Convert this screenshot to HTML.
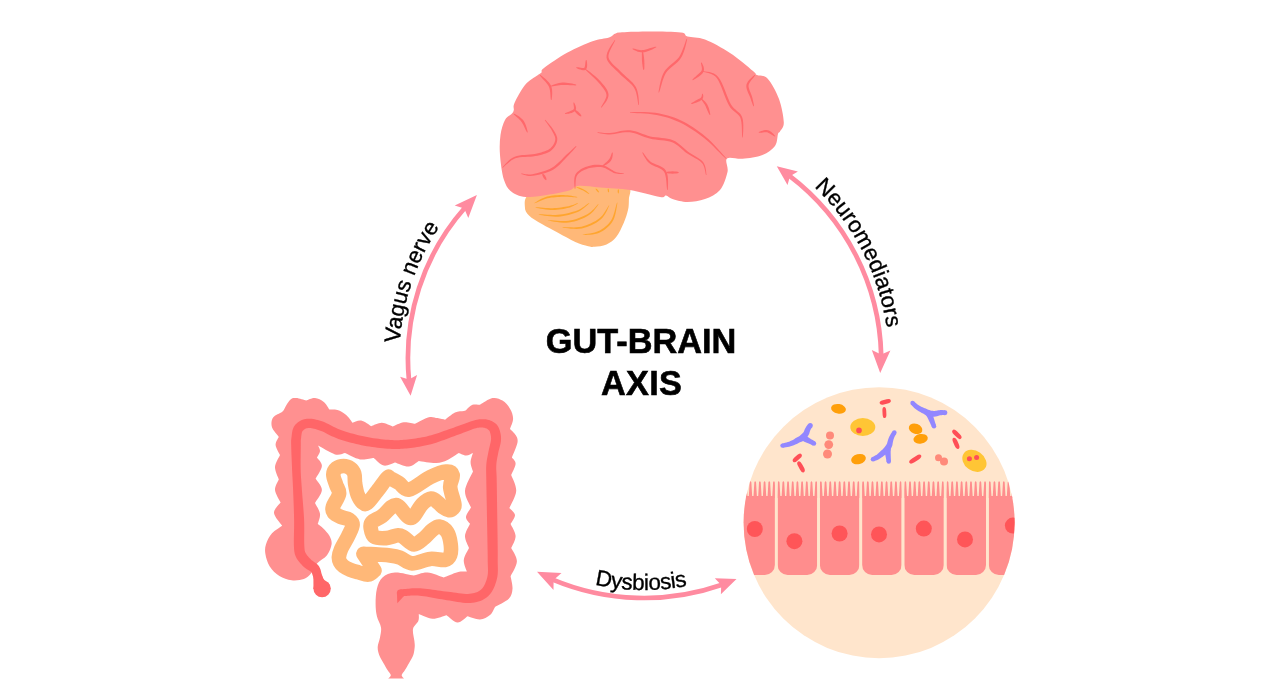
<!DOCTYPE html>
<html lang="en"><head><meta charset="utf-8"><title>Gut-brain axis</title>
<style>html,body{margin:0;padding:0;background:#fff}svg{display:block;will-change:transform}</style></head>
<body><svg width="1280" height="697" viewBox="0 0 1280 697">
<rect width="1280" height="697" fill="#fff"/>
<path d="M524.9 206.9C524.9 210.4 526.2 212.6 529 215.5C531.8 218.4 537.1 221.3 541.9 224.1C546.7 227 552.5 229.8 558 232.7C563.6 235.7 570.2 239.6 575.3 241.9C580.3 244.1 585 245.4 588.2 246.2C591.4 247 591.6 247.1 594.6 246.8C597.7 246.5 602.9 246 606.5 244.4C610.1 242.7 613.3 240.6 616.2 237C619 233.5 621.7 227.5 623.7 223C625.7 218.6 627.1 214.1 628 210.1C628.9 206.2 628.8 203.3 628.9 199.4C628.9 195.4 632.8 189.3 628.2 186.5C623.6 183.6 612.8 182.5 601.1 182.2C589.4 181.8 570.1 182.2 558 184.3C546 186.4 534.5 190.8 529 194.5C523.5 198.3 524.9 203.4 524.9 206.9Z" fill="#FFB878"/>
<path d="M534.44 203.27L535.49 202.96L536.81 202.4L538.37 201.71L540.09 200.94L541.93 200.16L543.82 199.42L545.69 198.77L547.5 198.28L549.33 197.91L551.28 197.62L553.3 197.38L555.37 197.19L557.44 197.05L559.5 196.94L561.51 196.86L563.43 196.8L565.34 196.79L567.35 196.85L569.38 196.96L571.36 197.1L573.23 197.23L574.9 197.35L576.32 197.42L577.4 197.37L577.44 197.07L576.39 196.78L575.01 196.49L573.36 196.18L571.5 195.86L569.52 195.57L567.46 195.32L565.41 195.14L563.43 195.06L561.47 195.05L559.43 195.08L557.34 195.16L555.21 195.3L553.09 195.5L551.01 195.78L548.99 196.14L547.07 196.59L545.16 197.2L543.24 197.98L541.35 198.87L539.55 199.82L537.88 200.76L536.42 201.63L535.2 202.38L534.31 203 Z" fill="#FFA52E"/>
<path d="M535.43 207.59L536.74 207.94L538.51 208.29L540.62 208.68L542.97 209.07L545.45 209.43L547.97 209.72L550.41 209.92L552.68 209.98L554.84 209.92L557.03 209.77L559.22 209.54L561.37 209.24L563.46 208.88L565.45 208.49L567.3 208.08L568.99 207.65L570.56 207.17L572.03 206.61L573.39 205.99L574.61 205.36L575.7 204.75L576.65 204.19L577.42 203.7L578.02 203.27L577.89 203L577.18 203.18L576.31 203.52L575.3 203.94L574.17 204.41L572.92 204.9L571.57 205.37L570.14 205.8L568.63 206.16L566.97 206.47L565.13 206.8L563.17 207.11L561.11 207.4L559 207.66L556.86 207.88L554.73 208.04L552.66 208.13L550.48 208.13L548.1 208.04L545.61 207.88L543.13 207.7L540.76 207.51L538.63 207.35L536.83 207.25L535.46 207.29 Z" fill="#FFA52E"/>
<path d="M538.66 214.59L540.14 214.91L542.1 215.26L544.46 215.65L547.09 216.03L549.88 216.36L552.72 216.6L555.5 216.7L558.11 216.63L560.64 216.39L563.22 216.02L565.83 215.55L568.42 214.97L570.95 214.31L573.37 213.58L575.64 212.8L577.74 211.97L579.7 211L581.56 209.86L583.3 208.62L584.9 207.35L586.32 206.11L587.56 204.98L588.58 204.02L589.35 203.26L589.17 203.02L588.21 203.55L587.05 204.36L585.71 205.35L584.2 206.44L582.56 207.56L580.81 208.65L578.98 209.63L577.1 210.45L575.07 211.17L572.84 211.87L570.46 212.53L567.99 213.14L565.46 213.69L562.91 214.16L560.4 214.54L557.98 214.83L555.48 214.97L552.78 214.97L549.99 214.87L547.22 214.71L544.58 214.52L542.21 214.35L540.21 214.24L538.69 214.29 Z" fill="#FFA52E"/>
<path d="M547.81 220.51L549.42 220.85L551.57 221.25L554.16 221.68L557.04 222.11L560.08 222.47L563.16 222.7L566.16 222.75L568.93 222.55L571.56 222.11L574.23 221.48L576.89 220.69L579.5 219.77L582.02 218.74L584.4 217.65L586.61 216.51L588.61 215.35L590.43 214.05L592.1 212.56L593.6 210.97L594.93 209.37L596.1 207.82L597.09 206.42L597.91 205.23L598.52 204.31L598.29 204.12L597.45 204.85L596.47 205.92L595.34 207.21L594.07 208.63L592.67 210.09L591.14 211.52L589.51 212.83L587.76 213.96L585.81 214.99L583.64 216.03L581.3 217.04L578.84 218L576.3 218.88L573.73 219.65L571.18 220.28L568.69 220.74L566.08 221L563.21 221.05L560.19 220.96L557.17 220.77L554.3 220.54L551.69 220.32L549.49 220.18L547.84 220.21 Z" fill="#FFA52E"/>
<path d="M562.34 227.5L563.83 227.76L565.82 228.05L568.2 228.36L570.86 228.65L573.67 228.86L576.53 228.93L579.31 228.81L581.9 228.44L584.38 227.83L586.9 227.04L589.43 226.09L591.91 224.99L594.32 223.77L596.59 222.46L598.68 221.06L600.57 219.61L602.25 217.95L603.76 216.03L605.09 213.97L606.26 211.89L607.26 209.88L608.11 208.06L608.8 206.53L609.3 205.37L609.04 205.21L608.25 206.23L607.37 207.67L606.35 209.39L605.21 211.28L603.95 213.23L602.57 215.13L601.07 216.85L599.47 218.31L597.67 219.61L595.64 220.89L593.43 222.12L591.11 223.27L588.7 224.33L586.28 225.27L583.87 226.06L581.54 226.69L579.13 227.11L576.48 227.33L573.7 227.39L570.93 227.35L568.29 227.25L565.9 227.15L563.88 227.1L562.36 227.2 Z" fill="#FFA52E"/>
<path d="M582.82 235.03L584.11 235.03L585.82 234.96L587.87 234.86L590.15 234.69L592.54 234.41L594.93 234.01L597.23 233.43L599.3 232.66L601.2 231.72L603.07 230.64L604.9 229.42L606.68 228.07L608.36 226.59L609.93 224.97L611.36 223.23L612.63 221.36L613.72 219.19L614.64 216.67L615.39 213.97L616.01 211.22L616.51 208.57L616.9 206.16L617.2 204.14L617.38 202.64L617.09 202.56L616.55 203.99L615.99 205.96L615.38 208.32L614.7 210.9L613.94 213.56L613.08 216.14L612.13 218.48L611.08 220.43L609.89 222.11L608.54 223.71L607.05 225.21L605.47 226.61L603.8 227.9L602.08 229.08L600.33 230.15L598.59 231.08L596.71 231.87L594.58 232.5L592.3 233.02L589.98 233.44L587.76 233.79L585.73 234.1L584.03 234.39L582.78 234.74 Z" fill="#FFA52E"/>
<path d="M576.29 187.13L576.83 187.52L577.6 187.94L578.53 188.4L579.56 188.89L580.64 189.39L581.71 189.89L582.7 190.36L583.57 190.79L584.36 191.23L585.17 191.71L585.97 192.22L586.74 192.71L587.46 193.18L588.12 193.59L588.69 193.92L589.17 194.11L589.35 193.87L589.03 193.47L588.56 193.01L587.99 192.48L587.34 191.91L586.61 191.31L585.83 190.72L585.02 190.16L584.18 189.66L583.27 189.19L582.23 188.72L581.11 188.27L579.98 187.86L578.89 187.49L577.9 187.19L577.05 186.96L576.4 186.86 Z" fill="#FFA52E"/>
<path d="M595.6 188.71L595.7 189.17L595.98 189.71L596.36 190.31L596.84 190.92L597.36 191.47L597.9 191.95L598.39 192.3L598.83 192.47L599.06 192.28L598.96 191.82L598.68 191.28L598.29 190.67L597.82 190.07L597.3 189.51L596.76 189.04L596.27 188.68L595.83 188.51 Z" fill="#FFA52E"/>
<path d="M607.94 188.63L607.77 188.98L607.69 189.45L607.67 190L607.72 190.58L607.83 191.16L608.01 191.68L608.21 192.11L608.48 192.4L608.78 192.36L608.95 192.01L609.03 191.54L609.05 190.99L609 190.4L608.89 189.82L608.71 189.3L608.51 188.87L608.24 188.59 Z" fill="#FFA52E"/>
<path d="M618.16 189.15L617.94 189.51L617.8 190.02L617.7 190.64L617.66 191.3L617.7 191.96L617.8 192.58L617.94 193.09L618.16 193.45L618.46 193.45L618.69 193.09L618.83 192.58L618.93 191.96L618.96 191.3L618.93 190.64L618.83 190.02L618.69 189.51L618.46 189.15 Z" fill="#FFA52E"/>
<path d="M615 33.8C617.2 32.9 616.2 32.7 622 32.3C627.8 31.9 640.2 31.5 650 31.5C659.8 31.5 674.8 31.7 681 32.5C687.2 33.3 683.5 35.3 687.5 36.5C691.5 37.7 697.9 36.8 705 39.5C712.1 42.2 722 47.8 730 53C738 58.2 748.5 67.3 753 71C757.5 74.7 754.6 73.8 757 75C759.4 76.2 763.8 74.5 767.5 78.5C771.2 82.5 776.3 91.7 779 99C781.7 106.3 783.6 117.1 783.8 122.5C783.9 127.9 781 129.6 780 131.5C779 133.4 778.8 131.6 778 134C777.2 136.4 777.6 142.5 775 146C772.4 149.5 767.9 152.9 762.5 155C757.1 157.1 748.4 158.2 742.5 158.8C736.6 159.3 729.5 156.3 727 158.5C724.5 160.7 728.7 166.8 727.5 172C726.3 177.2 723.8 185.5 720 190C716.2 194.5 710.4 197 705 199C699.6 201 692.9 202 687.5 202C682.1 202 676.1 200.1 672.5 199C668.9 197.9 668.1 195.8 666 195.5C663.9 195.2 666 197.9 660 197C654 196.1 640 191.6 630 190C620 188.4 608.8 188.2 600 187.5C591.2 186.8 582.9 185.4 577.5 186C572.1 186.6 575.4 189.2 567.5 191C559.6 192.8 539.2 196.8 530 197C520.8 197.2 516.8 195.3 512.5 192.5C508.2 189.7 506.1 186.2 504 180C501.9 173.8 500.6 162.5 500 155C499.4 147.5 499.7 140.8 500.5 135C501.3 129.2 503.1 123.6 505 120C506.9 116.4 510.5 115.2 512 113.5C513.5 111.8 513.3 111.8 513.8 110C514.2 108.2 512.6 107.2 514.5 103C516.4 98.8 521.1 89.7 525 85C528.9 80.3 535.2 77.1 538 75C540.8 72.9 540.5 73.7 541.5 72.5C542.5 71.3 539.7 71.3 544 68C548.3 64.7 559.4 57 567.5 52.5C575.6 48 585.6 43.8 592.5 41.2C599.4 38.8 605.2 38.8 609 37.5C612.8 36.2 612.8 34.6 615 33.8Z" fill="#FF9090"/>
<path d="M539.82 75.17L540.47 76.22L541.53 77.46L542.82 78.89L544.24 80.44L545.67 82.07L547.01 83.7L548.14 85.27L548.95 86.72L549.49 88.24L549.88 90L550.15 91.9L550.32 93.85L550.45 95.74L550.57 97.46L550.72 98.93L551 100.01L551.5 99.99L551.71 98.92L551.89 97.48L552.06 95.75L552.18 93.81L552.18 91.75L552.04 89.67L551.68 87.65L551.05 85.78L550.06 84.02L548.75 82.3L547.23 80.64L545.6 79.09L543.98 77.68L542.47 76.46L541.19 75.48L540.18 74.83 Z" fill="#FF686B"/>
<path d="M550.81 86.49L551.77 86.51L552.99 86.34L554.41 86.09L555.99 85.8L557.65 85.5L559.34 85.23L560.99 85.02L562.56 84.9L564.19 84.88L566.04 84.95L568.01 85.05L570 85.18L571.91 85.29L573.64 85.37L575.11 85.39L576.22 85.25L576.28 84.75L575.24 84.37L573.82 84L572.12 83.62L570.22 83.26L568.22 82.94L566.19 82.71L564.24 82.59L562.44 82.6L560.72 82.78L558.95 83.11L557.21 83.54L555.55 84.04L554 84.57L552.64 85.09L551.52 85.56L550.69 86.01 Z" fill="#FF686B"/>
<path d="M573.51 102.55L573.41 103.23L573.51 104.12L573.67 105.14L573.83 106.22L573.94 107.27L573.95 108.19L573.82 108.88L573.6 109.3L573.09 109.73L572.13 110.26L570.89 110.82L569.49 111.38L568.07 111.93L566.75 112.46L565.65 112.97L564.92 113.51L565.08 113.99L565.96 114L567.14 113.86L568.56 113.64L570.1 113.31L571.66 112.88L573.11 112.32L574.39 111.62L575.4 110.7L575.96 109.5L576.08 108.24L575.93 107L575.6 105.81L575.18 104.71L574.74 103.75L574.35 102.98L573.99 102.45 Z" fill="#FF686B"/>
<path d="M574.33 110.18L574.62 111L575.25 111.94L576.1 112.96L577.09 113.97L578.18 114.89L579.26 115.65L580.24 116.2L581.08 116.43L581.42 116.07L581.13 115.25L580.5 114.31L579.65 113.29L578.66 112.28L577.57 111.36L576.49 110.6L575.51 110.05L574.67 109.82 Z" fill="#FF686B"/>
<path d="M513.6 113.95L514.15 114.7L515.02 115.54L516.08 116.49L517.24 117.53L518.45 118.62L519.63 119.73L520.69 120.85L521.57 121.93L522.35 123.13L523.13 124.55L523.91 126.1L524.66 127.69L525.38 129.23L526.05 130.63L526.66 131.79L527.27 132.59L527.73 132.41L527.62 131.42L527.33 130.15L526.93 128.65L526.43 126.99L525.83 125.27L525.13 123.57L524.33 121.98L523.43 120.57L522.36 119.31L521.11 118.14L519.76 117.05L518.38 116.07L517.03 115.2L515.8 114.48L514.75 113.91L513.9 113.55 Z" fill="#FF686B"/>
<path d="M544.8 120.15L545.31 121L546.09 122.08L547.02 123.35L548.05 124.74L549.11 126.21L550.14 127.68L551.06 129.1L551.82 130.41L552.5 131.66L553.19 132.92L553.83 134.16L554.4 135.38L554.85 136.56L555.16 137.71L555.3 138.81L555.25 139.89L555.02 141.04L554.62 142.26L554.07 143.51L553.38 144.76L552.55 145.97L551.6 147.11L550.53 148.16L549.35 149.08L548.03 149.89L546.52 150.62L544.85 151.27L543.02 151.87L541.08 152.42L539.04 152.93L536.93 153.42L534.79 153.89L532.54 154.27L530.09 154.53L527.47 154.72L524.78 154.9L522.08 155.12L519.45 155.45L516.96 155.95L514.68 156.68L512.59 157.74L510.61 159.08L508.76 160.59L507.07 162.19L505.55 163.75L504.23 165.19L503.15 166.4L502.33 167.31L502.67 167.69L503.68 166.96L504.91 165.87L506.34 164.55L507.93 163.13L509.67 161.69L511.5 160.34L513.4 159.18L515.32 158.32L517.39 157.74L519.73 157.36L522.26 157.12L524.91 156.98L527.6 156.86L530.26 156.72L532.83 156.49L535.21 156.11L537.42 155.64L539.57 155.16L541.67 154.64L543.69 154.07L545.63 153.43L547.44 152.71L549.12 151.88L550.65 150.92L552.01 149.82L553.23 148.59L554.3 147.27L555.22 145.87L555.98 144.43L556.57 142.97L557 141.53L557.25 140.11L557.27 138.69L557.05 137.29L556.63 135.94L556.07 134.62L555.41 133.34L554.69 132.08L553.94 130.84L553.18 129.59L552.32 128.27L551.29 126.85L550.15 125.41L548.98 124.01L547.84 122.69L546.79 121.51L545.89 120.54L545.2 119.85 Z" fill="#FF686B"/>
<path d="M576.19 67.74L576.85 68.16L577.8 68.63L578.99 69.14L580.32 69.62L581.71 70.01L583.08 70.23L584.42 70.19L585.69 69.67L586.54 68.6L586.96 67.33L587.13 65.94L587.15 64.5L587.05 63.09L586.9 61.81L586.72 60.76L586.5 60.02L586 59.98L585.69 60.73L585.51 61.81L585.35 63.07L585.2 64.41L585.01 65.69L584.78 66.8L584.51 67.55L584.31 67.83L583.99 67.94L583.19 67.99L582.06 67.91L580.78 67.72L579.45 67.5L578.19 67.29L577.11 67.17L576.31 67.26 Z" fill="#FF686B"/>
<path d="M584.83 68.94L585.89 70.18L587.46 71.73L589.35 73.53L591.45 75.51L593.61 77.56L595.7 79.59L597.59 81.51L599.16 83.25L600.52 84.86L601.83 86.44L603.05 87.97L604.13 89.46L605.05 90.9L605.76 92.31L606.24 93.69L606.47 95.02L606.37 96.44L605.9 98.07L605.13 99.83L604.19 101.63L603.18 103.35L602.23 104.94L601.46 106.3L601.04 107.37L601.46 107.63L602.19 106.77L603.16 105.57L604.3 104.1L605.5 102.44L606.65 100.64L607.62 98.77L608.3 96.86L608.53 94.98L608.31 93.2L607.78 91.49L607 89.83L606.02 88.2L604.88 86.59L603.62 84.99L602.26 83.38L600.84 81.75L599.17 79.98L597.15 78.07L594.92 76.11L592.62 74.18L590.36 72.37L588.28 70.77L586.52 69.46L585.17 68.56 Z" fill="#FF686B"/>
<path d="M614.78 39.88L613.92 41.16L612.73 42.93L611.31 45.07L609.82 47.46L608.44 50.01L607.31 52.61L606.61 55.18L606.53 57.63L607.16 59.89L608.29 62L609.8 64.01L611.56 65.93L613.48 67.8L615.46 69.64L617.38 71.46L619.18 73.31L621.04 75.18L623.08 77.04L625.2 78.86L627.32 80.67L629.35 82.47L631.23 84.28L632.86 86.11L634.17 87.97L635.19 90.02L636 92.33L636.64 94.8L637.12 97.29L637.51 99.68L637.83 101.85L638.13 103.68L638.5 105.04L639 104.96L638.94 103.58L638.85 101.74L638.72 99.54L638.5 97.09L638.15 94.5L637.63 91.89L636.87 89.36L635.83 87.03L634.44 84.9L632.74 82.87L630.83 80.92L628.78 79.02L626.67 77.17L624.6 75.34L622.63 73.53L620.82 71.69L618.98 69.82L617.01 67.98L615.02 66.17L613.13 64.38L611.43 62.61L610.03 60.85L609.02 59.1L608.47 57.37L608.46 55.44L608.98 53.17L609.92 50.69L611.11 48.16L612.41 45.72L613.64 43.48L614.65 41.57L615.22 40.12 Z" fill="#FF686B"/>
<path d="M632.42 48.99L633.09 49.44L633.99 49.94L635.09 50.5L636.37 51.09L637.78 51.63L639.31 52.06L640.93 52.34L642.58 52.38L644.36 52.14L646.3 51.66L648.32 51L650.33 50.23L652.24 49.4L653.94 48.6L655.34 47.87L656.33 47.24L656.17 46.76L654.98 46.87L653.44 47.25L651.63 47.75L649.67 48.33L647.65 48.92L645.7 49.46L643.91 49.88L642.42 50.12L641.08 50.15L639.69 50.02L638.29 49.77L636.91 49.45L635.62 49.1L634.43 48.78L633.4 48.54L632.58 48.51 Z" fill="#FF686B"/>
<path d="M642.25 51.27L641.95 52.87L641.85 55.12L641.85 57.8L641.98 60.7L642.23 63.59L642.59 66.25L642.99 68.47L643.5 70.02L644 69.98L644.3 68.38L644.4 66.13L644.4 63.45L644.27 60.55L644.02 57.66L643.66 55L643.26 52.78L642.75 51.23 Z" fill="#FF686B"/>
<path d="M686.76 38.67L686.09 40.09L685.38 42.05L684.58 44.38L683.68 46.94L682.69 49.62L681.59 52.27L680.4 54.75L679.11 56.91L677.62 58.8L675.83 60.58L673.84 62.31L671.72 64.03L669.59 65.81L667.53 67.68L665.66 69.7L664.08 71.94L662.81 74.47L661.76 77.29L660.88 80.25L660.15 83.23L659.57 86.08L659.1 88.66L658.73 90.81L658.51 92.44L658.99 92.56L659.61 91.03L660.24 88.92L660.94 86.41L661.72 83.64L662.6 80.77L663.59 77.95L664.7 75.33L665.92 73.06L667.37 71.12L669.11 69.3L671.08 67.54L673.18 65.81L675.32 64.05L677.38 62.21L679.28 60.24L680.89 58.09L682.21 55.67L683.36 53.01L684.35 50.22L685.19 47.43L685.9 44.77L686.48 42.37L686.94 40.35L687.24 38.83 Z" fill="#FF686B"/>
<path d="M701.01 62.56L700.97 63.32L701.15 64.28L701.41 65.38L701.66 66.56L701.85 67.75L701.91 68.89L701.8 69.9L701.49 70.75L700.83 71.68L699.76 72.82L698.42 74.07L696.95 75.37L695.47 76.64L694.12 77.84L693.02 78.9L692.34 79.8L692.66 80.2L693.68 79.75L695 79.02L696.55 78.08L698.21 76.98L699.85 75.76L701.35 74.46L702.61 73.13L703.51 71.75L703.94 70.3L703.99 68.83L703.75 67.42L703.34 66.1L702.84 64.9L702.32 63.86L701.87 63.03L701.49 62.44 Z" fill="#FF686B"/>
<path d="M702.43 71.49L703.59 71.97L705.17 72.35L707.03 72.76L709.05 73.28L711.15 74L713.2 74.98L715.11 76.31L716.8 78.07L718.36 80.5L719.91 83.66L721.44 87.32L722.95 91.26L724.46 95.26L725.96 99.12L727.48 102.62L729.02 105.58L730.65 107.92L732.35 109.79L734.04 111.29L735.66 112.56L737.13 113.71L738.41 114.89L739.49 116.21L740.35 117.84L740.99 119.97L741.43 122.54L741.71 125.37L741.86 128.29L741.93 131.13L741.98 133.72L742.06 135.9L742.25 137.5L742.75 137.5L742.89 135.91L743.04 133.74L743.19 131.14L743.3 128.27L743.3 125.29L743.16 122.35L742.8 119.59L742.15 117.16L741.18 115.15L739.93 113.51L738.51 112.13L737 110.88L735.46 109.62L733.92 108.22L732.42 106.53L730.98 104.42L729.55 101.65L728.08 98.24L726.57 94.44L725.02 90.46L723.41 86.51L721.75 82.8L720.02 79.54L718.2 76.93L716.18 75.01L713.95 73.61L711.65 72.65L709.38 72.03L707.25 71.65L705.34 71.4L703.76 71.21L702.57 71.01 Z" fill="#FF686B"/>
<path d="M691.36 103.98L692.31 103.88L693.56 103.56L695.03 103.11L696.62 102.53L698.2 101.87L699.68 101.13L700.96 100.35L701.96 99.55L702.66 98.67L703.08 97.74L703.26 96.83L703.27 95.99L703.18 95.25L703.04 94.63L702.9 94.15L702.75 93.77L702.25 93.73L702.03 94.13L701.92 94.67L701.84 95.27L701.73 95.89L701.57 96.48L701.34 97.03L701.01 97.51L700.54 97.95L699.74 98.47L698.58 99.11L697.2 99.82L695.73 100.59L694.27 101.38L692.94 102.14L691.85 102.85L691.14 103.52 Z" fill="#FF686B"/>
<path d="M701.06 98.91L701.29 99.53L701.72 100.21L702.26 100.98L702.86 101.82L703.5 102.72L704.13 103.65L704.73 104.6L705.25 105.54L705.76 106.61L706.31 107.89L706.89 109.29L707.5 110.72L708.1 112.09L708.68 113.34L709.22 114.37L709.76 115.08L710.24 114.92L710.22 114.03L710.03 112.89L709.75 111.54L709.38 110.06L708.93 108.54L708.42 107.05L707.85 105.67L707.25 104.46L706.58 103.4L705.81 102.4L705 101.49L704.17 100.68L703.37 99.96L702.64 99.36L702 98.89L701.44 98.59 Z" fill="#FF686B"/>
<path d="M754.81 74.84L754.01 75.44L752.96 76.32L751.71 77.4L750.39 78.66L749.08 80.05L747.91 81.55L746.98 83.14L746.42 84.81L746.32 86.53L746.56 88.28L747.04 90.03L747.69 91.75L748.41 93.42L749.13 95.01L749.79 96.47L750.3 97.8L750.74 99.09L751.18 100.4L751.62 101.66L752.05 102.85L752.45 103.94L752.83 104.91L753.16 105.71L753.51 106.32L753.99 106.18L753.97 105.49L753.84 104.62L753.65 103.61L753.42 102.46L753.15 101.22L752.86 99.92L752.54 98.57L752.2 97.2L751.74 95.73L751.14 94.15L750.47 92.54L749.81 90.91L749.23 89.31L748.79 87.79L748.56 86.4L748.58 85.19L748.93 83.98L749.61 82.63L750.55 81.21L751.64 79.78L752.77 78.41L753.82 77.16L754.68 76.07L755.19 75.16 Z" fill="#FF686B"/>
<path d="M758.8 132.74L759.55 132.85L760.52 132.78L761.64 132.64L762.85 132.48L764.09 132.34L765.28 132.25L766.36 132.25L767.24 132.37L768.09 132.66L769.08 133.13L770.14 133.75L771.22 134.43L772.27 135.11L773.25 135.73L774.11 136.22L774.85 136.45L775.15 136.05L774.75 135.42L774.11 134.68L773.31 133.83L772.38 132.92L771.33 132.03L770.2 131.22L769 130.56L767.76 130.13L766.45 129.98L765.11 130.05L763.76 130.29L762.46 130.64L761.25 131.05L760.19 131.48L759.32 131.87L758.7 132.26 Z" fill="#FF686B"/>
<path d="M629.99 112.75L631.92 112.96L634.49 113.09L637.54 113.21L640.92 113.35L644.49 113.54L648.1 113.8L651.6 114.18L654.85 114.68L657.93 115.3L661.03 115.98L664.12 116.74L667.2 117.6L670.28 118.57L673.36 119.67L676.43 120.9L679.51 122.29L682.62 123.85L685.77 125.58L688.94 127.45L692.12 129.46L695.27 131.56L698.37 133.75L701.41 136L704.36 138.28L707.34 140.78L710.45 143.61L713.59 146.62L716.65 149.65L719.53 152.56L722.12 155.18L724.33 157.37L726.07 158.92L726.43 158.58L724.95 156.78L722.92 154.44L720.47 151.68L717.72 148.63L714.76 145.46L711.7 142.31L708.62 139.35L705.64 136.72L702.69 134.34L699.65 132.01L696.53 129.75L693.35 127.57L690.14 125.51L686.91 123.58L683.69 121.81L680.49 120.21L677.32 118.8L674.14 117.56L670.97 116.47L667.8 115.52L664.63 114.7L661.47 113.98L658.32 113.36L655.15 112.82L651.81 112.4L648.22 112.13L644.56 112L640.95 111.97L637.55 112L634.5 112.07L631.94 112.15L630.01 112.25 Z" fill="#FF686B"/>
<path d="M597.47 132.75L598.36 132.96L599.5 133.21L600.87 133.49L602.43 133.78L604.15 134.06L606.01 134.28L607.98 134.41L610.03 134.44L612.23 134.29L614.61 133.95L617.11 133.51L619.69 133.03L622.31 132.6L624.92 132.28L627.47 132.13L629.91 132.24L632.28 132.63L634.65 133.25L637.04 134.06L639.46 134.99L641.92 135.98L644.45 136.95L647.05 137.85L649.74 138.6L652.56 139.16L655.48 139.58L658.46 139.9L661.44 140.21L664.35 140.54L667.13 140.96L669.73 141.53L672.09 142.29L674.21 143.28L676.16 144.47L678 145.82L679.77 147.29L681.51 148.82L683.25 150.37L685.05 151.88L686.93 153.3L688.95 154.6L691.05 155.82L693.18 157L695.27 158.16L697.26 159.31L699.08 160.48L700.67 161.69L701.95 162.95L702.95 164.35L703.73 165.97L704.34 167.71L704.8 169.48L705.15 171.19L705.43 172.76L705.69 174.08L706.01 175.05L706.49 174.95L706.38 173.96L706.25 172.64L706.08 171.04L705.83 169.27L705.45 167.4L704.9 165.52L704.11 163.7L703.05 162.05L701.66 160.59L700 159.22L698.14 157.93L696.13 156.69L694.06 155.46L691.98 154.24L689.96 152.99L688.07 151.7L686.31 150.33L684.6 148.83L682.9 147.27L681.17 145.68L679.34 144.13L677.39 142.66L675.26 141.33L672.91 140.21L670.33 139.35L667.55 138.72L664.66 138.27L661.69 137.92L658.7 137.62L655.77 137.3L652.93 136.91L650.26 136.4L647.71 135.7L645.2 134.86L642.71 133.93L640.23 132.98L637.74 132.06L635.23 131.26L632.69 130.63L630.09 130.26L627.43 130.2L624.73 130.42L622.03 130.82L619.37 131.34L616.79 131.9L614.34 132.42L612.05 132.83L609.97 133.06L608.01 133.11L606.1 133.07L604.27 132.95L602.57 132.78L601.01 132.59L599.64 132.42L598.46 132.28L597.53 132.25 Z" fill="#FF686B"/>
<path d="M521.21 174L521.98 174.27L522.95 174.6L524.13 174.98L525.51 175.36L527.06 175.7L528.77 175.92L530.64 175.99L532.62 175.85L534.79 175.53L537.21 175.09L539.83 174.53L542.56 173.84L545.33 173.02L548.06 172.07L550.66 170.98L553.08 169.75L555.32 168.29L557.48 166.59L559.52 164.74L561.47 162.79L563.31 160.84L565.03 158.95L566.63 157.19L568.12 155.63L569.53 154.2L570.87 152.8L572.12 151.46L573.26 150.21L574.28 149.06L575.16 148.04L575.89 147.16L576.43 146.43L576.07 146.07L575.34 146.62L574.49 147.37L573.49 148.28L572.37 149.33L571.13 150.48L569.79 151.71L568.38 153.01L566.88 154.37L565.29 155.87L563.59 157.58L561.8 159.4L559.94 161.27L558.01 163.11L556.02 164.85L553.99 166.42L551.92 167.75L549.7 168.9L547.23 169.96L544.63 170.92L541.97 171.78L539.33 172.54L536.79 173.19L534.44 173.73L532.38 174.15L530.56 174.39L528.84 174.45L527.23 174.36L525.74 174.17L524.39 173.94L523.18 173.7L522.14 173.53L521.29 173.5 Z" fill="#FF686B"/>
<path d="M542.29 173.88L542.26 174.61L542.48 175.49L542.86 176.47L543.39 177.47L544.02 178.4L544.71 179.2L545.38 179.81L546.04 180.13L546.46 179.87L546.49 179.14L546.27 178.26L545.89 177.28L545.36 176.28L544.73 175.35L544.04 174.55L543.37 173.94L542.71 173.62 Z" fill="#FF686B"/>
<path d="M575.25 188.76L575.43 187.64L575.5 186.12L575.54 184.32L575.61 182.35L575.76 180.36L576.02 178.45L576.45 176.78L577.06 175.45L577.89 174.33L578.95 173.27L580.19 172.27L581.58 171.36L583.07 170.54L584.64 169.79L586.25 169.14L587.85 168.58L589.5 168.1L591.27 167.7L593.12 167.38L595.02 167.16L596.93 167.03L598.81 167.01L600.61 167.11L602.29 167.32L603.87 167.71L605.45 168.34L607.05 169.14L608.64 170.04L610.21 170.97L611.76 171.87L613.27 172.65L614.73 173.23L616.15 173.61L617.53 173.86L618.86 174.01L620.11 174.08L621.24 174.09L622.24 174.08L623.07 174.05L623.73 174L623.77 173.5L623.13 173.33L622.29 173.21L621.3 173.09L620.2 172.96L619.02 172.77L617.78 172.53L616.52 172.2L615.27 171.77L614 171.17L612.64 170.36L611.18 169.41L609.64 168.4L608.02 167.39L606.33 166.46L604.55 165.7L602.71 165.18L600.83 164.9L598.87 164.76L596.86 164.76L594.82 164.87L592.8 165.11L590.82 165.45L588.92 165.89L587.15 166.42L585.44 167.05L583.73 167.78L582.06 168.62L580.46 169.57L578.95 170.64L577.59 171.81L576.41 173.11L575.44 174.55L574.77 176.25L574.39 178.19L574.23 180.25L574.23 182.33L574.34 184.34L574.48 186.15L574.62 187.65L574.75 188.74 Z" fill="#FF686B"/>
<path d="M602.65 166.45L603.43 166.2L604.38 165.72L605.49 165.11L606.69 164.38L607.9 163.54L609.06 162.64L610.09 161.67L610.92 160.67L611.56 159.59L612.03 158.43L612.36 157.25L612.58 156.08L612.72 154.99L612.79 154.01L612.81 153.2L612.74 152.57L612.26 152.43L611.87 152.97L611.54 153.74L611.21 154.65L610.85 155.64L610.47 156.65L610.04 157.64L609.58 158.55L609.08 159.33L608.42 160.09L607.54 160.96L606.55 161.88L605.5 162.81L604.48 163.73L603.55 164.59L602.8 165.36L602.35 166.05 Z" fill="#FF686B"/>
<path d="M642.29 152.64L642.68 153.5L643.22 154.6L643.91 155.9L644.72 157.35L645.67 158.87L646.75 160.41L647.98 161.89L649.39 163.27L651.08 164.48L653.06 165.52L655.2 166.46L657.36 167.37L659.45 168.32L661.33 169.35L662.89 170.51L664.06 171.85L664.91 173.6L665.55 175.88L666.01 178.48L666.32 181.22L666.54 183.93L666.72 186.41L666.92 188.51L667.25 190.02L667.75 189.98L667.86 188.46L667.96 186.38L668.05 183.88L668.05 181.12L667.92 178.26L667.58 175.47L666.95 172.88L665.94 170.65L664.45 168.86L662.58 167.42L660.47 166.26L658.26 165.28L656.05 164.4L653.97 163.56L652.12 162.69L650.61 161.73L649.32 160.59L648.09 159.3L646.95 157.93L645.91 156.56L644.96 155.24L644.12 154.05L643.38 153.06L642.71 152.36 Z" fill="#FF686B"/>
<path d="M666.25 172.75L667.3 173.15L668.79 173.41L670.57 173.59L672.5 173.65L674.43 173.59L676.21 173.41L677.7 173.15L678.75 172.75L678.75 172.25L677.7 171.85L676.21 171.59L674.43 171.41L672.5 171.35L670.57 171.41L668.79 171.59L667.3 171.85L666.25 172.25 Z" fill="#FF686B"/>
<path d="M317.8 524.1C318.7 524.8 321.4 526.5 323.3 528.4C325.2 530.3 328 533.1 329.4 535.7C330.8 538.4 332 541 331.6 544.3C331.2 547.5 329.4 552.1 327 555.2C324.6 558.4 319.9 560.2 317.2 563.2C314.5 566.2 313.2 570.9 311 573.5C308.8 576.1 307 577.9 303.8 579C300.6 580.1 295.7 580.7 291.6 580.2C287.5 579.7 283.1 578.3 279.4 576C275.7 573.7 271.9 569.9 269.6 566.2C267.3 562.5 266 557.6 265.4 554C264.8 550.4 264.9 547.8 266 544.3C267.1 540.8 269.3 536.4 272 533.3C274.7 530.2 280.5 527 282.2 525.7C280.8 523.6 274.3 516.9 274 513C273.7 509.1 279.5 504.2 280.6 502.5C279.7 500.4 275.3 493.9 275 490C274.7 486.1 278.1 481.2 278.8 479.4C278.1 477.3 274.8 471.1 275 467C275.2 462.9 279.2 457 280 455C279.3 453.3 275.8 448 275.6 445C275.4 442 278.2 438.2 278.8 436.9C277.6 435.2 272.8 430.2 271.9 427C271 423.8 271.4 420 273.1 417.5C274.8 415 280.2 413.1 282 411.9C283.8 410.6 283.5 410.3 283.8 410C284.8 408.3 287.9 402 290 400C292.1 398 293.5 398 296.2 398.1C299 398.2 304.6 400.2 306.2 400.6C307.7 400.2 312.1 397.9 315 398.1C317.9 398.3 321.4 400 323.8 401.9C326.1 403.8 328.5 408.1 329.4 409.4C330.8 409.5 334.7 409.1 337.5 410C340.3 410.9 343.8 412.9 346.2 415C348.8 417.1 351.5 421.5 352.5 422.8C354 422.4 358.1 420 361.2 420.6C364.4 421.2 369.6 425.3 371.2 426.2C373 425.7 378.4 422.7 381.9 422.8C385.4 422.8 390.7 425.9 392.5 426.5C394.4 425.8 400 422.7 403.8 422.2C407.5 421.8 413.1 423.5 415 423.8C417.3 422.7 425 418.2 428.8 417.2C432.5 416.3 434.8 417.7 437.5 418.1C440.2 418.5 443.8 419.5 445 419.8C446.7 418.5 451.9 414 455 412.5C458.1 411 461.9 411.4 463.8 411C465.6 410.6 465.8 410.2 466.2 410C467.3 409.1 470.2 405.6 472.5 404.8C474.8 403.9 478.8 404.8 480 404.8C482.1 403.6 488.8 398.8 492.5 398.1C496.2 397.4 499.6 398.8 502.5 400.6C505.4 402.4 508.2 405.7 510 408.8C511.8 411.8 513.1 415.4 513.1 418.8C513.1 422.1 510.5 427.3 510 429C510.9 430 514.4 432.8 515.6 435C516.9 437.2 518.1 438.8 517.5 442.5C516.9 446.2 512.8 455 511.9 457.5C512.5 458.5 515.7 460.8 515.6 463.8C515.5 466.7 512 473.1 511.2 475C512.1 477.7 516.6 485.5 516.2 491C515.9 496.5 510.5 505.2 509.4 508C510.3 509.2 514.8 512.3 515 515C515.2 517.7 511.3 522.5 510.6 524C511.4 526 515.5 532 515.6 536C515.7 540 512 546 511.2 548C512.2 550.2 517 556.5 516.9 561.2C516.8 566 511.7 573.8 510.6 576.2C510.9 578.3 512.8 585 512.5 588.8C512.2 592.5 511.7 595.7 508.8 598.8C505.8 601.8 497.3 605.5 495 606.9C494.2 608.2 492.5 612.9 490 615C487.5 617.1 483.8 619.2 480 619.4C476.2 619.6 469.6 616.8 467.5 616.2C465.8 617.3 461 622.7 457.5 622.5C454 622.3 448.4 616.5 446.6 615.3C444.2 615.9 437.1 619 432.5 618.8C427.9 618.5 421 614.8 418.8 614C418.7 615.2 419.3 618.5 418.3 621C417.3 623.5 413.6 625.7 413 629C412.4 632.3 414.1 638 414.4 641C414.7 644 414.9 644.7 414.7 647C414.5 649.3 414.2 652.3 413.3 655C412.4 657.7 410.5 660.5 409.1 663C407.7 665.5 406.2 668 405 670C403.8 672 401.9 673.7 401.7 675.1C401.5 676.5 403.6 678 404 678.6C401.4 678.6 390.8 678.6 388.2 678.6C388.6 678 390.9 676.5 390.8 675.1C390.6 673.7 388.7 672 387.5 670C386.3 668 384.8 665.5 383.4 663C382 660.5 380.1 657.7 379.2 655C378.2 652.3 377.6 649.9 377.7 647C377.8 644.1 379.4 640.8 380 637.5C380.6 634.2 381.5 631 381 627.5C380.5 624 377.8 620.2 376.9 616.2C376 612.3 375.6 608.3 375.6 603.8C375.6 599.2 375.8 593.1 376.9 588.8C378 584.4 379.5 580.2 382.5 577.5C385.5 574.8 389.8 572.8 395 572.5C400.2 572.2 410.6 575.1 413.8 575.6C416 575.1 422.5 572.2 427.5 572.5C432.5 572.8 441 576.7 443.8 577.5C446 576.6 453.6 573.2 457.5 572.2C461.4 571.3 465.3 571.7 466.9 571.6C466.4 569.7 463.4 563.9 463.8 560C464.1 556.1 468.1 550 469 548C468.3 546 464.8 540 465 536C465.2 532 469.2 525.8 470 523.8C469.3 522.6 465.8 519.7 466 517C466.2 514.3 470.2 509.1 471 507.5C470 504.8 464.7 497 465 491C465.3 485 471.7 474.8 473 471.5C472.6 470 470.6 465.6 470.6 462.5C470.6 459.4 472.5 454.7 472.9 453.1C471.8 453.5 468.6 455.6 466.2 455.6C463.9 455.6 460 453.5 458.8 453.1C456.9 454.2 451.2 458.3 447.5 460C443.8 461.7 441 462.9 436.2 463.1C431.5 463.3 421.7 461.4 418.8 461C417.1 461.9 412.7 466.4 408.8 466.6C404.8 466.9 397.3 463.2 395 462.5C393.1 463 387.3 466.3 383.8 465.6C380.2 464.9 375.4 459.4 373.8 458.1C371.5 458.3 364.8 460.2 360 459.4C355.2 458.6 347.5 454.2 345 453.1C343.3 453.3 339.5 455.6 335 454.4C330.5 453.1 320.9 447.1 318.1 445.6C318.4 446.5 320.2 449.3 320 451.2C319.8 453.2 317.4 456.5 316.9 457.5C317.7 458.9 322.1 462.5 321.9 466C321.7 469.5 316.7 476.6 315.6 478.8C316.7 480.6 322 486 321.9 490C321.8 494 316.1 500.8 315 503C315.8 504.8 319.5 510.2 320 513.8C320.5 517.3 318.2 522.4 317.8 524.1Z" fill="#FF9090"/>
<path d="M323.47 579.57L323.41 579.39L323.33 579.16L323.24 578.89L323.14 578.59L323.03 578.27L322.92 577.93L322.8 577.59L322.69 577.26L322.58 576.93L322.49 576.64L322.42 576.4L322.35 576.18L322.28 575.94L322.2 575.67L322.11 575.36L322 575L321.88 574.61L321.75 574.18L321.59 573.7L321.45 573.28L321.36 572.93L321.26 572.51L321.14 571.95L320.99 571.26L320.79 570.47L320.53 569.6L320.19 568.65L319.73 567.65L319.15 566.62L318.4 565.58L317.51 564.61L316.59 563.79L315.69 563.08L314.82 562.46L314 561.89L313.23 561.36L312.52 560.86L311.9 560.39L311.38 559.96L310.89 559.48L310.29 558.87L309.62 558.18L308.96 557.48L308.33 556.78L307.72 556.09L307.17 555.41L306.67 554.75L306.23 554.12L305.88 553.53L305.57 552.92L305.29 552.29L305.07 551.74L304.92 551.32L304.82 550.95L304.73 550.51L304.64 549.93L304.56 549.15L304.47 548.12L304.39 546.82L304.3 545.28L304.22 543.49L304.19 541.46L304.19 539.19L304.2 536.72L304.22 534.1L304.25 531.35L304.26 528.52L304.24 525.64L304.19 522.74L304.1 519.86L303.95 516.95L303.77 513.9L303.55 510.77L303.31 507.58L303.05 504.38L302.8 501.22L302.54 498.13L302.3 495.16L302.08 492.36L301.89 489.75L301.73 487.36L301.57 485.16L301.42 483.12L301.28 481.2L301.15 479.36L301.03 477.56L300.93 475.75L300.84 473.89L300.76 471.94L300.7 469.85L300.65 467.57L300.63 465.1L300.63 462.5L300.64 459.84L300.66 457.18L300.69 454.58L300.72 452.1L300.75 449.8L300.78 447.74L300.8 445.97L300.81 444.51L300.81 443.34L300.8 442.41L300.79 441.7L300.78 441.17L300.79 440.76L300.8 440.4L300.83 439.99L300.9 439.44L301.01 438.65L301.14 437.65L301.25 436.62L301.36 435.62L301.48 434.67L301.62 433.78L301.78 432.98L301.95 432.3L302.13 431.77L302.29 431.42L302.46 431.16L302.75 430.81L303.15 430.39L303.62 429.97L304.14 429.57L304.7 429.2L305.31 428.87L305.94 428.59L306.6 428.36L307.28 428.19L307.98 428.07L308.77 428.02L309.65 428.03L310.62 428.1L311.68 428.23L312.83 428.44L314.06 428.71L315.37 429.04L316.75 429.44L318.21 429.89L319.68 430.38L321.13 430.92L322.64 431.58L324.26 432.36L325.98 433.23L327.81 434.16L329.73 435.14L331.76 436.14L333.9 437.12L336.14 438.07L338.46 438.93L340.81 439.72L343.24 440.49L345.75 441.24L348.32 441.96L350.94 442.67L353.59 443.34L356.25 443.98L358.91 444.59L361.54 445.15L364.14 445.67L366.74 446.14L369.39 446.58L372.06 446.99L374.74 447.36L377.39 447.69L380.02 447.98L382.58 448.24L385.07 448.46L387.46 448.65L389.74 448.79L391.88 448.9L393.88 448.97L395.77 448.99L397.59 448.98L399.36 448.93L401.11 448.84L402.87 448.72L404.66 448.57L406.52 448.39L408.48 448.17L410.54 447.94L412.64 447.67L414.8 447.38L417.01 447.06L419.27 446.7L421.56 446.3L423.9 445.84L426.26 445.34L428.66 444.78L431.1 444.16L433.6 443.45L436.16 442.65L438.77 441.78L441.4 440.87L444.03 439.92L446.64 438.96L449.19 438.01L451.68 437.08L454.08 436.19L456.37 435.36L458.64 434.54L460.9 433.68L463.12 432.83L465.28 431.98L467.36 431.17L469.36 430.4L471.24 429.7L472.99 429.09L474.6 428.57L476.03 428.16L477.31 427.86L478.44 427.65L479.4 427.51L480.24 427.44L480.98 427.43L481.65 427.45L482.3 427.52L482.95 427.61L483.65 427.72L484.36 427.85L484.97 427.99L485.51 428.16L486.02 428.36L486.53 428.59L487.01 428.84L487.46 429.12L487.89 429.4L488.29 429.7L488.65 429.99L488.96 430.27L489.18 430.49L489.33 430.68L489.44 430.83L489.53 430.98L489.61 431.15L489.7 431.35L489.8 431.62L489.93 431.97L490.06 432.41L490.22 432.94L490.38 433.54L490.53 434.15L490.67 434.77L490.8 435.4L490.9 436.05L490.98 436.71L491.03 437.39L491.06 438.1L491.06 438.84L491.02 439.6L490.93 440.41L490.78 441.35L490.58 442.41L490.33 443.57L490.04 444.8L489.73 446.09L489.4 447.43L489.08 448.8L488.77 450.19L488.49 451.55L488.25 452.8L488.01 454.01L487.76 455.22L487.51 456.46L487.26 457.73L487.03 459.03L486.81 460.37L486.61 461.75L486.44 463.19L486.31 464.67L486.22 466.13L486.16 467.52L486.13 468.87L486.12 470.21L486.14 471.57L486.16 472.98L486.2 474.5L486.23 476.16L486.27 478L486.3 480.09L486.33 482.48L486.38 485.13L486.43 487.98L486.48 491.01L486.54 494.15L486.6 497.37L486.67 500.61L486.73 503.85L486.79 507.02L486.85 510.09L486.91 513.13L486.96 516.25L487.02 519.4L487.08 522.57L487.14 525.71L487.2 528.81L487.25 531.82L487.31 534.72L487.36 537.48L487.4 540.07L487.44 542.49L487.49 544.76L487.53 546.89L487.57 548.91L487.61 550.85L487.64 552.71L487.67 554.53L487.69 556.33L487.7 558.13L487.7 560L487.72 561.93L487.77 563.84L487.85 565.68L487.91 567.44L487.96 569.12L487.98 570.73L487.94 572.26L487.85 573.7L487.68 575.07L487.42 576.42L487.06 577.88L486.64 579.39L486.17 580.89L485.65 582.35L485.07 583.74L484.46 585.05L483.8 586.25L483.12 587.32L482.42 588.24L481.68 589.04L480.84 589.78L479.94 590.48L478.99 591.11L477.97 591.67L476.87 592.18L475.67 592.62L474.36 593.01L472.93 593.34L471.36 593.61L469.69 593.81L467.89 593.91L465.88 593.88L463.66 593.75L461.27 593.52L458.75 593.22L456.15 592.87L453.49 592.49L450.82 592.11L448.16 591.75L445.57 591.44L443.05 591.14L440.48 590.81L437.86 590.45L435.21 590.08L432.56 589.7L429.95 589.34L427.39 589L424.91 588.71L422.53 588.48L420.27 588.31L418.11 588.23L416.04 588.22L414.06 588.26L412.18 588.36L410.42 588.48L408.79 588.63L407.3 588.77L405.96 588.91L404.79 589.02L403.78 589.11L402.9 589.17L402.14 589.24L401.53 589.3L401.03 589.37L400.61 589.44L400.26 589.51L400.01 589.58L399.89 589.61L399.9 589.62L399.83 589.63L400.77 596.37L401.03 596.34L401.32 596.28L401.49 596.25L401.58 596.24L401.69 596.23L401.89 596.21L402.21 596.19L402.68 596.16L403.33 596.13L404.22 596.09L405.33 596.03L406.58 595.94L407.93 595.83L409.38 595.72L410.91 595.62L412.54 595.54L414.24 595.49L416.01 595.49L417.85 595.56L419.73 595.69L421.75 595.91L423.94 596.22L426.29 596.59L428.76 597.01L431.31 597.47L433.93 597.96L436.58 598.44L439.23 598.92L441.87 599.36L444.43 599.76L446.93 600.15L449.5 600.59L452.14 601.05L454.81 601.52L457.5 601.97L460.17 602.37L462.81 602.7L465.4 602.94L467.92 603.04L470.31 602.99L472.52 602.8L474.6 602.5L476.6 602.1L478.52 601.58L480.35 600.95L482.11 600.19L483.79 599.32L485.38 598.32L486.88 597.21L488.32 595.96L489.71 594.52L490.98 592.93L492.09 591.25L493.07 589.5L493.94 587.71L494.71 585.89L495.39 584.05L495.99 582.22L496.51 580.41L496.98 578.58L497.37 576.66L497.63 574.7L497.79 572.77L497.86 570.87L497.86 569L497.83 567.16L497.78 565.35L497.73 563.56L497.7 561.79L497.7 560L497.72 558.16L497.73 556.31L497.73 554.46L497.73 552.61L497.72 550.72L497.7 548.77L497.68 546.73L497.65 544.6L497.63 542.34L497.6 539.93L497.57 537.33L497.53 534.56L497.49 531.65L497.44 528.63L497.4 525.54L497.35 522.39L497.3 519.23L497.24 516.07L497.2 512.96L497.15 509.91L497.1 506.85L497.06 503.67L497.01 500.44L496.97 497.19L496.92 493.98L496.88 490.83L496.83 487.81L496.79 484.95L496.74 482.31L496.7 479.91L496.65 477.76L496.58 475.84L496.5 474.14L496.42 472.62L496.35 471.24L496.29 469.99L496.25 468.82L496.23 467.68L496.24 466.53L496.29 465.33L496.37 464.11L496.48 462.93L496.62 461.77L496.79 460.61L496.97 459.46L497.18 458.3L497.4 457.12L497.63 455.91L497.87 454.68L498.11 453.45L498.35 452.27L498.63 451.07L498.95 449.82L499.3 448.52L499.65 447.2L499.99 445.86L500.31 444.51L500.6 443.14L500.83 441.77L500.98 440.4L501.05 439.1L501.05 437.87L500.98 436.7L500.87 435.57L500.71 434.5L500.52 433.49L500.31 432.55L500.07 431.66L499.83 430.83L499.58 430.06L499.33 429.3L499.04 428.55L498.72 427.79L498.35 427.03L497.92 426.26L497.42 425.52L496.85 424.8L496.23 424.12L495.55 423.5L494.84 422.93L494.12 422.42L493.35 421.94L492.54 421.48L491.68 421.05L490.77 420.66L489.82 420.29L488.82 419.98L487.78 419.71L486.7 419.49L485.64 419.35L484.69 419.26L483.77 419.19L482.79 419.15L481.75 419.15L480.66 419.2L479.49 419.31L478.26 419.48L476.94 419.72L475.52 420.04L473.97 420.44L472.26 420.93L470.45 421.52L468.54 422.18L466.56 422.89L464.51 423.66L462.4 424.45L460.24 425.25L458.06 426.06L455.85 426.86L453.63 427.64L451.3 428.44L448.86 429.3L446.35 430.2L443.8 431.1L441.22 432L438.65 432.88L436.1 433.73L433.61 434.51L431.21 435.22L428.9 435.84L426.66 436.39L424.42 436.88L422.21 437.33L420.02 437.73L417.86 438.09L415.72 438.41L413.62 438.7L411.55 438.97L409.51 439.21L407.52 439.43L405.62 439.63L403.85 439.8L402.18 439.94L400.58 440.06L399.01 440.14L397.43 440.19L395.8 440.2L394.09 440.18L392.25 440.11L390.26 440.01L388.11 439.86L385.83 439.67L383.45 439.44L380.99 439.17L378.48 438.87L375.93 438.53L373.38 438.15L370.83 437.74L368.32 437.3L365.86 436.83L363.4 436.32L360.89 435.76L358.35 435.17L355.81 434.53L353.28 433.86L350.78 433.17L348.33 432.46L345.96 431.73L343.68 431L341.54 430.27L339.56 429.51L337.64 428.69L335.75 427.81L333.89 426.88L332.04 425.93L330.2 424.98L328.36 424.04L326.52 423.15L324.66 422.33L322.82 421.62L321.09 421.04L319.45 420.52L317.84 420.05L316.25 419.63L314.69 419.28L313.14 418.99L311.6 418.78L310.07 418.66L308.54 418.64L307.02 418.73L305.49 418.94L304.01 419.29L302.6 419.74L301.25 420.3L299.97 420.96L298.77 421.7L297.65 422.51L296.61 423.4L295.66 424.35L294.74 425.44L293.89 426.75L293.22 428.15L292.74 429.52L292.4 430.85L292.15 432.14L291.96 433.36L291.82 434.51L291.71 435.56L291.6 436.5L291.49 437.35L291.38 438.16L291.28 438.92L291.2 439.64L291.15 440.35L291.12 441.04L291.12 441.76L291.12 442.54L291.14 443.47L291.17 444.61L291.2 446.03L291.24 447.8L291.3 449.88L291.38 452.2L291.47 454.7L291.57 457.32L291.68 460L291.79 462.68L291.9 465.3L292 467.81L292.1 470.15L292.2 472.29L292.3 474.3L292.4 476.21L292.5 478.06L292.6 479.89L292.7 481.74L292.81 483.66L292.91 485.69L293.01 487.86L293.11 490.25L293.21 492.87L293.33 495.7L293.45 498.68L293.57 501.77L293.68 504.93L293.79 508.11L293.89 511.26L293.98 514.35L294.05 517.33L294.1 520.14L294.12 522.87L294.1 525.64L294.07 528.44L294.01 531.21L293.95 533.94L293.89 536.58L293.85 539.11L293.83 541.5L293.85 543.73L293.9 545.72L293.99 547.41L294.07 548.84L294.16 550.1L294.29 551.27L294.46 552.37L294.69 553.46L294.99 554.5L295.35 555.5L295.75 556.45L296.23 557.48L296.83 558.63L297.54 559.78L298.29 560.86L299.08 561.87L299.88 562.83L300.7 563.74L301.52 564.59L302.32 565.4L303.1 566.15L303.91 566.92L304.86 567.74L305.88 568.51L306.87 569.17L307.8 569.75L308.66 570.25L309.42 570.7L310.06 571.09L310.57 571.42L310.91 571.67L311.1 571.82L311.25 571.97L311.42 572.19L311.6 572.47L311.78 572.83L311.96 573.26L312.13 573.75L312.31 574.3L312.5 574.91L312.72 575.58L312.95 576.22L313.12 576.68L313.24 576.99L313.33 577.27L313.41 577.53L313.48 577.78L313.54 578.04L313.62 578.32L313.7 578.64L313.8 578.99L313.91 579.36L314.03 579.72L314.14 580.07L314.26 580.43L314.38 580.79L314.5 581.14L314.61 581.47L314.71 581.77L314.8 582.04L314.88 582.26L314.93 582.43 Z" fill="#FF6668"/><circle cx="319.2" cy="581" r="4.5" fill="#FF6668"/><circle cx="400.3" cy="593" r="3.4" fill="#FF6668"/>
<circle cx="322.1" cy="588.6" r="8.7" fill="#FF6668"/><path d="M313.4 576 L321.8 575 Q323.2 580.5 329.8 584.5 L313.45 589 Z" fill="#FF6668"/>
<path d="M396.9 592 L397.3 603.2 L404 596 Z" fill="#FF6668"/>
<path d="M374.5 570.5C373.4 571.2 370.9 574.3 368.2 574.6C365.5 574.9 361.2 573 358.2 572.2C355.2 571.4 352.5 570.7 350.1 569.7C347.7 568.7 345.3 567.5 343.6 566.2C341.9 565 340.9 563.7 340.1 562.2C339.3 560.7 338.7 559.4 338.9 557.2C339.1 555 339.6 552.6 341.1 549.1C342.6 545.6 346.2 540.1 348.1 536.1C350 532.1 352.5 527.8 352.6 525C352.8 522.2 350.9 520.8 349 519.5C347.1 518.2 343.6 518.2 341 517C338.4 515.8 335 514.2 333.6 512.5C332.2 510.8 332 509.8 332.9 506.7C333.8 503.6 338.6 497.4 339.1 493.7C339.6 490 337.1 487.8 336.1 484.6C335.1 481.4 333.2 477.3 333.3 474.6C333.4 471.9 334.8 469.6 336.5 468.2C338.2 466.8 341.3 466 343.6 466C345.9 466 348.7 467 350.5 468.3C352.3 469.6 353.5 471.1 354.3 473.6C355.1 476.2 354.6 480.1 355.1 483.6C355.7 487.1 356.4 491.6 357.6 494.7C358.8 497.8 360.6 500.8 362.2 502.2C363.8 503.6 364.7 505 367.2 503.2C369.7 501.4 373.8 495.3 377.2 491.1C380.6 486.9 385.2 480 387.3 477.8C389.4 475.6 388.1 477.2 390 478.1C391.9 479 395.8 481.1 399 483C402.2 484.9 403.9 490.6 409.1 489.6C414.3 488.6 424 480.1 430.2 477.1C436.4 474.1 442.4 471.9 446.2 471.6C449.9 471.3 452 472.5 452.7 475.1C453.4 477.7 449.9 482.2 450.2 487.1C450.5 492 454 500.6 454.4 504.2C454.8 507.8 453.6 507.7 452.7 508.7C451.8 509.7 450.9 510.5 449.2 510.2C447.4 509.9 444 507.9 442.2 506.7C440.4 505.4 440 504.1 438.2 502.7C436.4 501.3 433.9 498.2 431.2 498.5C428.5 498.8 425.5 500.9 422.1 504.2C418.7 507.4 415 517.9 410.6 518C406.2 518.1 400.7 505.3 396 505C391.3 504.7 386.2 513.2 382.2 516C378.2 518.8 373.9 520 372 522C370.1 524 370.3 525.6 370.7 528C371.1 530.4 371.6 534.9 374.2 536.6C376.8 538.3 382.3 538.3 386.3 538.1C390.3 537.9 395.1 535.4 398 535.3C400.9 535.2 401.3 536 404 537.5C406.7 539 410.8 544.3 414.1 544.4C417.5 544.5 421.1 540.5 424.1 538.1C427.1 535.7 429.7 532 432.2 530.1C434.7 528.2 436.7 526.2 439.2 526.5C441.7 526.8 445.3 529.2 447.2 532.1C449.1 535 450.2 540.2 450.7 544.1C451.2 548 451.2 552.6 450.2 555.2C449.2 557.9 448 559.4 444.7 560C441.4 560.6 435.6 558.3 430.2 558.9C424.8 559.5 417.1 563.6 412.1 563.4C407.1 563.2 403.7 559 400 557.7C396.3 556.4 393.6 556 390 555.5C386.4 555 382.6 554.9 378.2 554.6C373.8 554.3 365.9 553.9 363.4 553.7L374.5 570.5Z" fill="none" stroke="#FFB878" stroke-width="14.6" stroke-linecap="round" stroke-linejoin="round"/>
<clipPath id="cc"><circle cx="879.1" cy="522.7" r="135.5"/></clipPath>
<circle cx="879.1" cy="522.7" r="135.5" fill="#FFE5CC"/>
<g clip-path="url(#cc)"><path d="M735.4 496 V565 a10 10 0 0 0 10 10 H764.9 a10 10 0 0 0 10 -10 V496 Z" fill="#FF8D8D"/><path d="M734.63 498L735.58 482.3Q736.43 480.2 737.28 482.3L738.23 498ZM739.32 498L740.27 482.3Q741.12 480.2 741.97 482.3L742.92 498ZM744.01 498L744.96 482.3Q745.81 480.2 746.66 482.3L747.61 498ZM748.7 498L749.65 482.3Q750.5 480.2 751.35 482.3L752.3 498ZM753.39 498L754.34 482.3Q755.19 480.2 756.04 482.3L756.99 498ZM758.08 498L759.03 482.3Q759.88 480.2 760.73 482.3L761.68 498ZM762.77 498L763.72 482.3Q764.57 480.2 765.42 482.3L766.37 498ZM767.46 498L768.41 482.3Q769.26 480.2 770.11 482.3L771.06 498ZM772.15 498L773.1 482.3Q773.95 480.2 774.8 482.3L775.75 498Z" fill="#FF8D8D"/><rect x="732.73" y="480" width="2.7" height="90" fill="#FFE5CC"/><path d="M777.6 496 V565 a10 10 0 0 0 10 10 H807.2 a10 10 0 0 0 10 -10 V496 Z" fill="#FF8D8D"/><path d="M776.85 498L777.8 482.3Q778.65 480.2 779.5 482.3L780.45 498ZM781.54 498L782.49 482.3Q783.34 480.2 784.19 482.3L785.14 498ZM786.23 498L787.18 482.3Q788.03 480.2 788.88 482.3L789.83 498ZM790.92 498L791.87 482.3Q792.72 480.2 793.57 482.3L794.52 498ZM795.61 498L796.56 482.3Q797.41 480.2 798.26 482.3L799.21 498ZM800.3 498L801.25 482.3Q802.1 480.2 802.95 482.3L803.9 498ZM804.99 498L805.94 482.3Q806.79 480.2 807.64 482.3L808.59 498ZM809.68 498L810.63 482.3Q811.48 480.2 812.33 482.3L813.28 498ZM814.37 498L815.32 482.3Q816.17 480.2 817.02 482.3L817.97 498Z" fill="#FF8D8D"/><rect x="774.95" y="480" width="2.7" height="90" fill="#FFE5CC"/><path d="M819.9 496 V565 a10 10 0 0 0 10 10 H849.4 a10 10 0 0 0 10 -10 V496 Z" fill="#FF8D8D"/><path d="M819.07 498L820.02 482.3Q820.87 480.2 821.72 482.3L822.67 498ZM823.76 498L824.71 482.3Q825.56 480.2 826.41 482.3L827.36 498ZM828.45 498L829.4 482.3Q830.25 480.2 831.1 482.3L832.05 498ZM833.14 498L834.09 482.3Q834.94 480.2 835.79 482.3L836.74 498ZM837.83 498L838.78 482.3Q839.63 480.2 840.48 482.3L841.43 498ZM842.52 498L843.47 482.3Q844.32 480.2 845.17 482.3L846.12 498ZM847.21 498L848.16 482.3Q849.01 480.2 849.86 482.3L850.81 498ZM851.9 498L852.85 482.3Q853.7 480.2 854.55 482.3L855.5 498ZM856.59 498L857.54 482.3Q858.39 480.2 859.24 482.3L860.19 498Z" fill="#FF8D8D"/><rect x="817.17" y="480" width="2.7" height="90" fill="#FFE5CC"/><path d="M862.1 496 V565 a10 10 0 0 0 10 10 H891.6 a10 10 0 0 0 10 -10 V496 Z" fill="#FF8D8D"/><path d="M861.29 498L862.24 482.3Q863.09 480.2 863.94 482.3L864.89 498ZM865.98 498L866.93 482.3Q867.78 480.2 868.63 482.3L869.58 498ZM870.67 498L871.62 482.3Q872.47 480.2 873.32 482.3L874.27 498ZM875.36 498L876.31 482.3Q877.16 480.2 878.01 482.3L878.96 498ZM880.05 498L881 482.3Q881.85 480.2 882.7 482.3L883.65 498ZM884.74 498L885.69 482.3Q886.54 480.2 887.39 482.3L888.34 498ZM889.43 498L890.38 482.3Q891.23 480.2 892.08 482.3L893.03 498ZM894.12 498L895.07 482.3Q895.92 480.2 896.77 482.3L897.72 498ZM898.81 498L899.76 482.3Q900.61 480.2 901.46 482.3L902.41 498Z" fill="#FF8D8D"/><rect x="859.39" y="480" width="2.7" height="90" fill="#FFE5CC"/><path d="M904.3 496 V565 a10 10 0 0 0 10 10 H933.8 a10 10 0 0 0 10 -10 V496 Z" fill="#FF8D8D"/><path d="M903.51 498L904.46 482.3Q905.31 480.2 906.16 482.3L907.11 498ZM908.2 498L909.15 482.3Q910 480.2 910.85 482.3L911.8 498ZM912.89 498L913.84 482.3Q914.69 480.2 915.54 482.3L916.49 498ZM917.58 498L918.53 482.3Q919.38 480.2 920.23 482.3L921.18 498ZM922.27 498L923.22 482.3Q924.07 480.2 924.92 482.3L925.87 498ZM926.96 498L927.91 482.3Q928.76 480.2 929.61 482.3L930.56 498ZM931.65 498L932.6 482.3Q933.45 480.2 934.3 482.3L935.25 498ZM936.34 498L937.29 482.3Q938.14 480.2 938.99 482.3L939.94 498ZM941.03 498L941.98 482.3Q942.83 480.2 943.68 482.3L944.63 498Z" fill="#FF8D8D"/><rect x="901.61" y="480" width="2.7" height="90" fill="#FFE5CC"/><path d="M946.5 496 V565 a10 10 0 0 0 10 10 H976 a10 10 0 0 0 10 -10 V496 Z" fill="#FF8D8D"/><path d="M945.73 498L946.68 482.3Q947.53 480.2 948.38 482.3L949.33 498ZM950.42 498L951.37 482.3Q952.22 480.2 953.07 482.3L954.02 498ZM955.11 498L956.06 482.3Q956.91 480.2 957.76 482.3L958.71 498ZM959.8 498L960.75 482.3Q961.6 480.2 962.45 482.3L963.4 498ZM964.49 498L965.44 482.3Q966.29 480.2 967.14 482.3L968.09 498ZM969.18 498L970.13 482.3Q970.98 480.2 971.83 482.3L972.78 498ZM973.87 498L974.82 482.3Q975.67 480.2 976.52 482.3L977.47 498ZM978.56 498L979.51 482.3Q980.36 480.2 981.21 482.3L982.16 498ZM983.25 498L984.2 482.3Q985.05 480.2 985.9 482.3L986.85 498Z" fill="#FF8D8D"/><rect x="943.83" y="480" width="2.7" height="90" fill="#FFE5CC"/><path d="M988.8 496 V565 a10 10 0 0 0 10 10 H1018.3 a10 10 0 0 0 10 -10 V496 Z" fill="#FF8D8D"/><path d="M987.95 498L988.9 482.3Q989.75 480.2 990.6 482.3L991.55 498ZM992.64 498L993.59 482.3Q994.44 480.2 995.29 482.3L996.24 498ZM997.33 498L998.28 482.3Q999.13 480.2 999.98 482.3L1000.93 498ZM1002.02 498L1002.97 482.3Q1003.82 480.2 1004.67 482.3L1005.62 498ZM1006.71 498L1007.66 482.3Q1008.51 480.2 1009.36 482.3L1010.31 498ZM1011.4 498L1012.35 482.3Q1013.2 480.2 1014.05 482.3L1015 498ZM1016.09 498L1017.04 482.3Q1017.89 480.2 1018.74 482.3L1019.69 498ZM1020.78 498L1021.73 482.3Q1022.58 480.2 1023.43 482.3L1024.38 498ZM1025.47 498L1026.42 482.3Q1027.27 480.2 1028.12 482.3L1029.07 498Z" fill="#FF8D8D"/><rect x="986.05" y="480" width="2.7" height="90" fill="#FFE5CC"/><path d="M1031 496 V565 a10 10 0 0 0 10 10 H1060.5 a10 10 0 0 0 10 -10 V496 Z" fill="#FF8D8D"/><path d="M1030.17 498L1031.12 482.3Q1031.97 480.2 1032.82 482.3L1033.77 498ZM1034.86 498L1035.81 482.3Q1036.66 480.2 1037.51 482.3L1038.46 498ZM1039.55 498L1040.5 482.3Q1041.35 480.2 1042.2 482.3L1043.15 498ZM1044.24 498L1045.19 482.3Q1046.04 480.2 1046.89 482.3L1047.84 498ZM1048.93 498L1049.88 482.3Q1050.73 480.2 1051.58 482.3L1052.53 498ZM1053.62 498L1054.57 482.3Q1055.42 480.2 1056.27 482.3L1057.22 498ZM1058.31 498L1059.26 482.3Q1060.11 480.2 1060.96 482.3L1061.91 498ZM1063 498L1063.95 482.3Q1064.8 480.2 1065.65 482.3L1066.6 498ZM1067.69 498L1068.64 482.3Q1069.49 480.2 1070.34 482.3L1071.29 498Z" fill="#FF8D8D"/><rect x="1028.27" y="480" width="2.7" height="90" fill="#FFE5CC"/><circle cx="754.8" cy="529" r="8" fill="#FF5558"/><circle cx="794.4" cy="541.2" r="8" fill="#FF5558"/><circle cx="839.6" cy="533.5" r="8" fill="#FF5558"/><circle cx="879" cy="534.4" r="8" fill="#FF5558"/><circle cx="923.8" cy="528.6" r="8" fill="#FF5558"/><circle cx="965" cy="539.4" r="8" fill="#FF5558"/><circle cx="1012.9" cy="525.6" r="8" fill="#FF5558"/></g>
<ellipse cx="838.5" cy="408.8" rx="7.5" ry="4.75" transform="rotate(10 838.5 408.8)" fill="#FF9F0A"/>
<rect x="879.5" y="399.7" width="11.5" height="4.4" rx="3.8" ry="2.2" transform="rotate(-14.2 885.2 401.9)" fill="#FF4F57"/>
<rect x="878.8" y="410.6" width="11.2" height="3.8" rx="3.7" ry="1.9" transform="rotate(87.1 884.4 412.5)" fill="#FF4F57"/>
<ellipse cx="862.8" cy="427" rx="12.5" ry="9" transform="rotate(0 862.8 427)" fill="#FFC535"/>
<circle cx="859" cy="430.4" r="2.8" fill="#FF4F57"/>
<path d="M808.27 424.05L807.67 424.76L807.05 425.52L806.44 426.34L805.87 427.22L805.34 428.14L804.88 429.09L804.48 430.04L804.12 430.96L803.95 431.47L803.33 432.38L802.6 433.3L801.82 434.1L800.99 434.83L800.16 435.54L799.25 436.21L798.25 436.81L796.84 437.46L795.39 438.37L794.14 439.15L792.91 439.88L791.67 440.53L790.42 441.12L789.15 441.64L787.84 442.09L786.49 442.48L785.09 442.82L783.64 443.13L782.15 443.43L782.85 447.77L784.39 447.58L785.95 447.36L787.53 447.09L789.11 446.76L790.69 446.34L792.26 445.85L793.79 445.27L795.29 444.62L796.75 443.93L798.16 443.21L799.36 442.58L800.69 442.12L802.24 441.4L803.71 440.54L805.08 439.52L806.27 438.32L807.33 436.98L808.26 435.54L809.12 433.9L809.48 432.68L809.7 431.9L809.93 431.17L810.2 430.49L810.5 429.84L810.85 429.2L811.25 428.54L811.72 427.87L812.23 427.15 Z" fill="#9287FF"/><circle cx="810.25" cy="425.6" r="2.52" fill="#9287FF"/><circle cx="782.5" cy="445.6" r="2.2" fill="#9287FF"/>
<path d="M801.83 440.51L803.04 441.11L804.3 441.63L805.54 442.15L806.78 442.69L808.02 443.23L809.26 443.78L810.49 444.33L811.73 444.88L812.96 445.44L815.04 441.56L813.9 440.84L812.75 440.12L811.61 439.39L810.47 438.67L809.34 437.93L808.2 437.2L807.07 436.45L805.95 435.69L804.78 435.01 Z" fill="#9287FF"/><circle cx="803.31" cy="437.76" r="3.12" fill="#9287FF"/><circle cx="814" cy="443.5" r="2.2" fill="#9287FF"/>
<path d="M803.75 438L806.3 433.13Q805.9 437.34 808.6 440.6Z" fill="#9287FF"/>
<path d="M803.75 438L798.57 439.85Q803.65 439.3 808.6 440.6Z" fill="#9287FF"/>
<circle cx="830" cy="435.4" r="4" fill="#FF8A7A"/>
<circle cx="828.75" cy="444.6" r="4.4" fill="#FF8A7A"/>
<circle cx="827.5" cy="454" r="4.5" fill="#FF8A7A"/>
<rect x="791.7" y="455.8" width="11.2" height="4.4" rx="3.7" ry="2.2" transform="rotate(-42.3 797.2 458)" fill="#FF4F57"/>
<rect x="794.9" y="464.6" width="12.2" height="4.4" rx="4" ry="2.2" transform="rotate(61.9 801 466.8)" fill="#FF4F57"/>
<ellipse cx="858.5" cy="459.1" rx="7.5" ry="5" transform="rotate(-15 858.5 459.1)" fill="#FF9F0A"/>
<path d="M892.53 431.33L891.7 432.55L890.88 433.82L890.08 435.15L889.36 436.55L888.72 438L888.17 439.48L887.71 440.97L887.31 442.45L887.03 443.58L886.51 444.52L885.86 445.56L885.14 446.53L884.39 447.43L883.64 448.34L882.84 449.23L881.93 450.06L880.71 451.01L879.82 451.89L879.14 452.58L878.46 453.23L877.78 453.83L877.08 454.38L876.36 454.9L875.61 455.37L874.81 455.82L873.97 456.25L873.08 456.67L872.15 457.09L873.85 461.31L874.84 460.96L875.85 460.58L876.88 460.17L877.91 459.7L878.92 459.18L879.92 458.61L880.88 457.98L881.81 457.32L882.69 456.63L883.53 455.94L884.16 455.42L885.38 454.68L886.74 453.69L888.02 452.6L889.18 451.39L890.15 450.02L890.98 448.56L891.7 447.03L892.37 445.26L892.65 443.55L892.86 442.21L893.13 440.92L893.45 439.69L893.86 438.49L894.34 437.3L894.92 436.11L895.56 434.9L896.27 433.67 Z" fill="#9287FF"/><circle cx="894.4" cy="432.5" r="2.2" fill="#9287FF"/><circle cx="873" cy="459.2" r="2.27" fill="#9287FF"/>
<path d="M884.35 449.84L884.53 451.17L884.82 452.49L885.08 453.81L885.34 455.13L885.59 456.45L885.84 457.77L886.08 459.09L886.32 460.41L886.56 461.74L890.94 461.26L890.89 459.92L890.84 458.58L890.79 457.23L890.75 455.89L890.71 454.54L890.68 453.2L890.66 451.85L890.65 450.5L890.55 449.17 Z" fill="#9287FF"/><circle cx="887.45" cy="449.5" r="3.12" fill="#9287FF"/><circle cx="888.75" cy="461.5" r="2.2" fill="#9287FF"/>
<path d="M887.5 450L889.52 444.88Q888.26 450.1 888.09 455.47Z" fill="#9287FF"/>
<path d="M887.5 450L882.86 452.95Q886.32 452.45 888.09 455.47Z" fill="#9287FF"/>
<ellipse cx="915.6" cy="428.8" rx="7" ry="5" transform="rotate(20 915.6 428.8)" fill="#FF9F0A"/>
<ellipse cx="920.6" cy="438.8" rx="7.25" ry="4.75" transform="rotate(-10 920.6 438.8)" fill="#FF9F0A"/>
<rect x="908.3" y="456.9" width="13.9" height="4.4" rx="4.6" ry="2.2" transform="rotate(-32.9 915.2 459.1)" fill="#FF4F57"/>
<path d="M910.96 404.57L912.09 405.77L913.28 406.98L914.54 408.15L915.89 409.27L917.3 410.31L918.78 411.26L920.3 412.12L921.81 412.9L923.13 413.55L924.27 414.35L925.75 415.19L927.29 415.89L928.9 416.42L930.56 416.7L932.26 416.81L933.96 416.76L935.79 416.56L937 416.18L937.79 415.92L938.55 415.68L939.3 415.48L940.03 415.33L940.76 415.21L941.51 415.13L942.29 415.09L943.09 415.08L943.93 415.1L944.81 415.13L945.19 410.37L944.28 410.26L943.34 410.16L942.37 410.09L941.37 410.06L940.36 410.07L939.34 410.14L938.33 410.26L937.34 410.43L936.38 410.63L935.45 410.84L934.95 410.98L933.82 410.96L932.64 410.86L931.5 410.66L930.4 410.39L929.3 410.11L928.2 409.76L927.1 409.29L925.73 408.54L924.06 407.89L922.63 407.32L921.28 406.7L920 406.03L918.76 405.29L917.57 404.45L916.4 403.52L915.23 402.51L914.04 401.43 Z" fill="#9287FF"/><circle cx="912.5" cy="403" r="2.2" fill="#9287FF"/><circle cx="945" cy="412.75" r="2.39" fill="#9287FF"/>
<path d="M926.3 415.06L926.89 416.42L927.55 417.74L928.19 419.07L928.83 420.4L929.46 421.74L930.09 423.08L930.71 424.41L931.33 425.75L931.95 427.09L936.05 425.51L935.61 424.1L935.17 422.69L934.73 421.28L934.29 419.87L933.86 418.46L933.44 417.04L933.02 415.62L932.62 414.2L932.13 412.81 Z" fill="#9287FF"/><circle cx="929.22" cy="413.93" r="3.13" fill="#9287FF"/><circle cx="934" cy="426.3" r="2.2" fill="#9287FF"/>
<path d="M929.4 414.4L924.84 411.32Q928.65 415 931.38 419.53Z" fill="#9287FF"/>
<path d="M929.4 414.4L934.87 413.82Q931.57 415.72 931.38 419.53Z" fill="#9287FF"/>
<rect x="950.9" y="432.2" width="11.9" height="4.4" rx="3.9" ry="2.2" transform="rotate(45 956.9 434.4)" fill="#FF4F57"/>
<rect x="949.9" y="441.2" width="12.1" height="4.4" rx="4" ry="2.2" transform="rotate(66.8 956 443.4)" fill="#FF4F57"/>
<circle cx="938.5" cy="457.75" r="3.5" fill="#FF8A7A"/>
<circle cx="944" cy="461.5" r="4" fill="#FF8A7A"/>
<ellipse cx="974.4" cy="460.9" rx="13" ry="10" transform="rotate(35 974.4 460.9)" fill="#FFC535"/>
<circle cx="969.4" cy="458.75" r="2.5" fill="#FF4F57"/><circle cx="976.6" cy="457.5" r="2.5" fill="#FF4F57"/>
<path d="M410.6 395.8L400.1 376.8L408.9 379.4L417.1 375Z" fill="#FF8BA0"/>
<path d="M476.9 195.1L468.3 218.1L464.2 208.6L454.7 205.5Z" fill="#FF8BA0"/>
<path id="aL" d="M409 380.4A227.4 227.4 0 0 1 464.9 207.8" fill="none" stroke="#FF8BA0" stroke-width="4.7"/>
<path d="M776.8 166.2L797.9 171.5L790 176.2L787.5 185.1Z" fill="#FF8BA0"/>
<path d="M880.2 372.9L871.8 349.9L881.2 354.4L890.4 350.6Z" fill="#FF8BA0"/>
<path id="aR" d="M789.2 175.6A232.5 232.5 0 0 1 881.2 355.4" fill="none" stroke="#FF8BA0" stroke-width="4.7"/>
<path d="M736.5 579L720.9 594.2L721.2 585.1L714.8 578.3Z" fill="#FF8BA0"/>
<path d="M537 571.8L561.5 573.1L553.6 579.9L553.5 589.9Z" fill="#FF8BA0"/>
<path id="aB" d="M722.1 584.8A236.4 236.4 0 0 1 552.7 579.6" fill="none" stroke="#FF8BA0" stroke-width="4.7"/>
<text x="641" y="353" text-anchor="middle" font-family="Liberation Sans, Arial, Helvetica, sans-serif" font-weight="700" font-size="34.3" stroke="#000" stroke-width="0.6">GUT-BRAIN</text>
<text x="641.6" y="395" text-anchor="middle" font-family="Liberation Sans, Arial, Helvetica, sans-serif" font-weight="700" font-size="34.3" stroke="#000" stroke-width="0.6" letter-spacing="0.3">AXIS</text>
<path id="tL" d="M402.5 397.1A236 236 0 0 1 471 189" fill="none"/>
<text font-family="Liberation Sans, Arial, Helvetica, sans-serif" font-size="22.4" stroke="#000" stroke-width="0.35"><textPath href="#tL" startOffset="51.1%" text-anchor="middle">Vagus nerve</textPath></text>
<path id="tR" d="M780.7 160.3A240.1 240.1 0 0 1 888.6 373.3" fill="none"/>
<text font-family="Liberation Sans, Arial, Helvetica, sans-serif" font-size="22.4" stroke="#000" stroke-width="0.35"><textPath href="#tR" startOffset="49.5%" text-anchor="middle" letter-spacing="0.15">Neuromediators</textPath></text>
<path id="tB" d="M540.4 565.1A228.4 228.4 0 0 0 733.4 571.8" fill="none"/>
<text font-family="Liberation Sans, Arial, Helvetica, sans-serif" font-size="22.4" stroke="#000" stroke-width="0.35"><textPath href="#tB" startOffset="52.3%" text-anchor="middle" letter-spacing="-0.35">Dysbiosis</textPath></text>
</svg></body></html>
